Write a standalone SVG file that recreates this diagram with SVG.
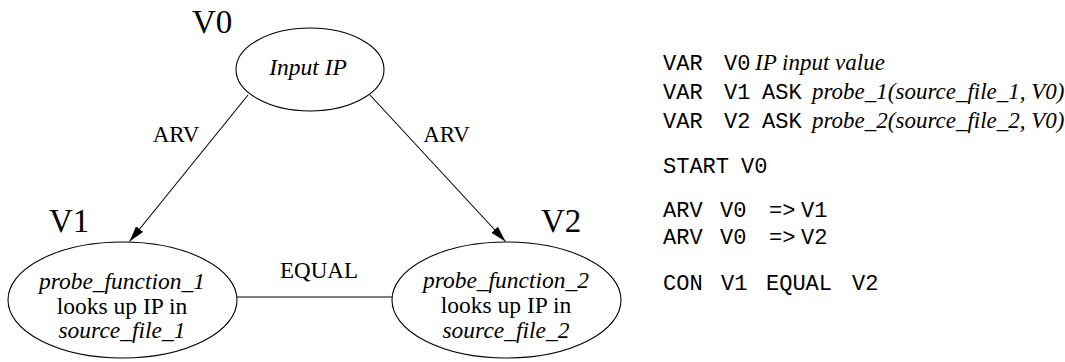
<svg xmlns="http://www.w3.org/2000/svg" width="1065" height="362" viewBox="0 0 1065 362">
<style>
.bg{fill:#ffffff}
.node{fill:none;stroke:#000;stroke-width:1.1}
.edge{fill:none;stroke:#000;stroke-width:1.1}
.rm{font-family:"Liberation Serif","Times New Roman",serif;fill:#000}
.it{font-family:"Liberation Serif","Times New Roman",serif;font-style:italic;fill:#000}
.tt{font-family:"Liberation Mono","Courier New",monospace;fill:#000;font-size:22px}
.big{font-size:33px}
.lbl{font-size:23px}
.ntx{font-size:23.5px}
</style>
<defs>
<marker id="arr" markerUnits="userSpaceOnUse" markerWidth="16" markerHeight="10" refX="16" refY="5" orient="auto">
<path d="M0,0.5 L16,5 L0,9.5 z" fill="#000"/>
</marker>
</defs>
<rect class="bg" x="0" y="0" width="1065" height="362"/>
<g id="connectors">
<line class="edge" x1="248" y1="95" x2="129.5" y2="241.5" marker-end="url(#arr)"/>
<line class="edge" x1="370" y1="95" x2="505.5" y2="241.5" marker-end="url(#arr)"/>
<line class="edge" x1="237" y1="297" x2="392" y2="297"/>
<text class="rm lbl" x="176" y="142" text-anchor="middle">ARV</text>
<text class="rm lbl" x="446.5" y="142" text-anchor="middle">ARV</text>
<text class="rm lbl" x="319" y="278" text-anchor="middle">EQUAL</text>
</g>
<g id="node-v0">
<text class="rm big" x="192" y="33">V0</text>
<ellipse class="node" cx="310" cy="69.5" rx="74" ry="41.5"/>
<text class="it ntx" x="308" y="75" text-anchor="middle">Input IP</text>
</g>
<g id="node-v1">
<text class="rm big" x="49" y="232">V1</text>
<ellipse class="node" cx="122.5" cy="300" rx="114.5" ry="58"/>
<text class="it ntx" x="122" y="289" text-anchor="middle">probe_function_1</text>
<text class="rm ntx" x="122" y="314" text-anchor="middle">looks up IP in</text>
<text class="it ntx" x="122" y="338" text-anchor="middle">source_file_1</text>
</g>
<g id="node-v2">
<text class="rm big" x="541" y="232">V2</text>
<ellipse class="node" cx="506.5" cy="300" rx="114.5" ry="58"/>
<text class="it ntx" x="506" y="288" text-anchor="middle">probe_function_2</text>
<text class="rm ntx" x="506" y="313" text-anchor="middle">looks up IP in</text>
<text class="it ntx" x="506" y="338" text-anchor="middle">source_file_2</text>
</g>
<g id="code">
<text y="70"><tspan class="tt" x="663">VAR</tspan><tspan class="tt" x="724">V0</tspan><tspan class="it lbl" x="755">IP input value</tspan></text>
<text y="99"><tspan class="tt" x="663">VAR</tspan><tspan class="tt" x="724">V1</tspan><tspan class="tt" x="762">ASK</tspan><tspan class="it lbl" x="812">probe_1(source_file_1, V0)</tspan></text>
<text y="128"><tspan class="tt" x="663">VAR</tspan><tspan class="tt" x="724">V2</tspan><tspan class="tt" x="762">ASK</tspan><tspan class="it lbl" x="812">probe_2(source_file_2, V0)</tspan></text>
<text y="173"><tspan class="tt" x="663">START</tspan><tspan class="tt" x="741">V0</tspan></text>
<text y="217"><tspan class="tt" x="663">ARV</tspan><tspan class="tt" x="720">V0</tspan><tspan class="tt" x="769">=&gt;</tspan><tspan class="tt" x="801">V1</tspan></text>
<text y="244"><tspan class="tt" x="663">ARV</tspan><tspan class="tt" x="720">V0</tspan><tspan class="tt" x="769">=&gt;</tspan><tspan class="tt" x="801">V2</tspan></text>
<text y="290"><tspan class="tt" x="663">CON</tspan><tspan class="tt" x="721">V1</tspan><tspan class="tt" x="766">EQUAL</tspan><tspan class="tt" x="852">V2</tspan></text>
</g>
</svg>
